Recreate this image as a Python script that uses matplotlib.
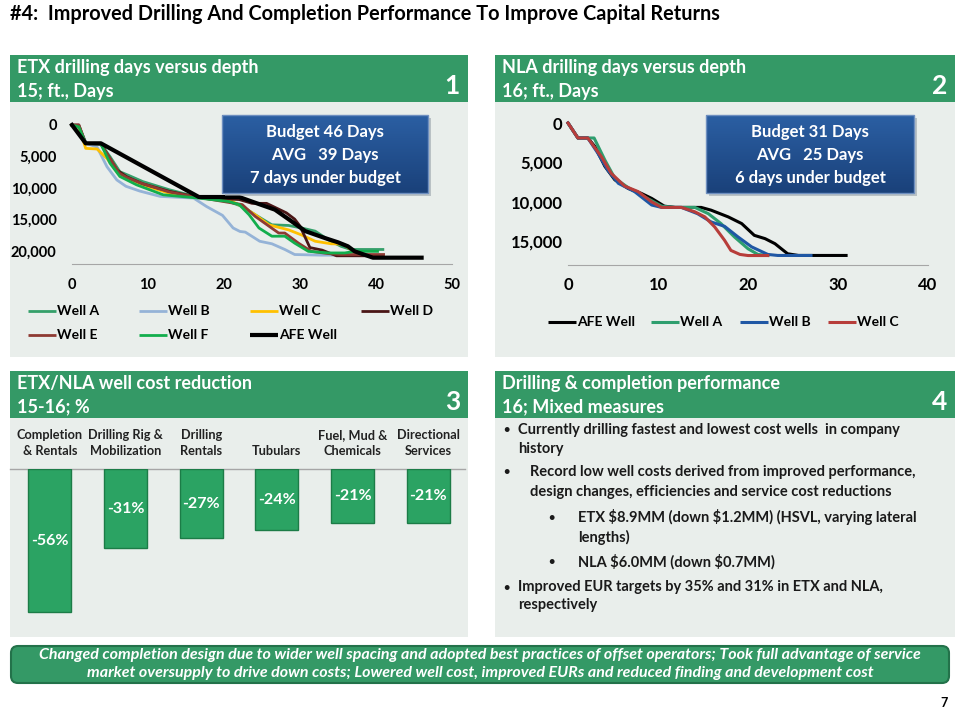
import numpy as np
import matplotlib
matplotlib.use("Agg")
import matplotlib.pyplot as plt
from matplotlib.patches import Rectangle, FancyBboxPatch

plt.rcParams['font.family'] = ['Lato', 'DejaVu Sans']
plt.rcParams['font.weight'] = 'bold'

# ETX drilling days vs depth (chart 1)
etx_afe_days = [0, 1.8, 3.8, 16.7, 22, 24.8, 26.7, 28.9, 30.7, 33.3, 35, 36.3, 37.2, 39.6, 46]
etx_afe_depth = [0, 2900, 2900, 11400, 11400, 12600, 13400, 15250, 16800, 17900, 18570, 19200, 20000, 21000, 21000]
etx_a_days = [0, 0.8, 1.8, 3.8, 5, 6.3, 7.5, 9.3, 12.8, 16.7, 20.6, 22.4, 24.1, 26.3, 28.5, 30.2, 32, 33.7, 35.4, 36.7, 40.9]
etx_a_depth = [0, 300, 2900, 3000, 5000, 7400, 8000, 8950, 10250, 11470, 12100, 12900, 14200, 15800, 15900, 16300, 16800, 18150, 19200, 19700, 19700]
etx_b_days = [0, 0.9, 1.9, 3.3, 4.6, 5.9, 7.1, 8.9, 11.6, 16, 17.7, 19.8, 21.2, 22.1, 22.8, 24.7, 26.3, 28, 29.3, 32.8, 35]
etx_b_depth = [0, 300, 2900, 3500, 6600, 8700, 9700, 10450, 11300, 11570, 12900, 14300, 16300, 16850, 16950, 18400, 18800, 19700, 20500, 20600, 20600]
etx_c_days = [0, 0.9, 1.8, 3.3, 4.6, 5.9, 7.2, 9.3, 12.8, 16.7, 20.6, 22.4, 24.1, 25.9, 28.5, 30.2, 32, 34.1, 35.7, 36.7, 38]
etx_c_depth = [0, 300, 3700, 3800, 5300, 7360, 8400, 9470, 10800, 11470, 11800, 12900, 14200, 15800, 16600, 17400, 18400, 18800, 18850, 19700, 20500]
etx_d_days = [0, 0.9, 1.8, 3.8, 5.9, 7.2, 9.3, 12.8, 16.7, 22, 23.7, 25.6, 28.2, 29.3, 30, 31.3, 32.9, 34.8, 40.9]
etx_d_depth = [0, 0, 2900, 3000, 7100, 8200, 9300, 10500, 11470, 11800, 12400, 12400, 13900, 14900, 16000, 19400, 19800, 20700, 20700]
etx_e_days = [0, 0.9, 1.8, 3.8, 6.2, 7.2, 9.3, 12.8, 16.7, 22.4, 24.1, 25.9, 27.2, 28, 29.8, 31.5, 33.7, 35.4, 41]
etx_e_depth = [0, 0, 2900, 3000, 7600, 8300, 9300, 10600, 11470, 12600, 14460, 16000, 17100, 17100, 18700, 20000, 20350, 20500, 20500]
etx_f_days = [0, 0.9, 1.8, 3.8, 5, 6.3, 8.5, 12, 16.7, 20.6, 22, 23.3, 24.6, 26.3, 28, 29.3, 31.1, 33.7, 35.9, 37.2, 40.2]
etx_f_depth = [0, 300, 2900, 3000, 6050, 8150, 9470, 11050, 11570, 12100, 12600, 14200, 16300, 17600, 17600, 18700, 20000, 20250, 20250, 20000, 20000]

# NLA drilling days vs depth (chart 2)
nla_afe_days = [0, 1.1, 2.2, 3, 4.1, 5.2, 6.7, 8.1, 9.3, 10.7, 11.9, 14.8, 15.9, 17.8, 19.3, 20.7, 21.9, 23, 24.4, 25.6, 30.9]
nla_afe_depth = [0, 1900, 1900, 3000, 5500, 7200, 8300, 8900, 9560, 10540, 10700, 10700, 11050, 11900, 12750, 14240, 14660, 15300, 16575, 16790, 16790]
nla_a_days = [0, 1.1, 2.9, 4.1, 5.2, 6.7, 8.5, 10.4, 11.9, 14.1, 15.6, 17, 18.5, 20, 21.1, 22.2]
nla_a_depth = [0, 1900, 1900, 4700, 7000, 8200, 9350, 10540, 10700, 10700, 11500, 12750, 14450, 15940, 16660, 16790]
nla_b_days = [0, 1.1, 2.2, 3.3, 4.4, 5.6, 7.4, 9.3, 10.4, 12.6, 14.4, 15.9, 17.4, 18.9, 20.4, 22.2, 23.3, 27]
nla_b_depth = [0, 1900, 1900, 3800, 5950, 7650, 8700, 10400, 10700, 10700, 11500, 12540, 13100, 14450, 15700, 16660, 16790, 16790]
nla_c_days = [0, 1.1, 2.2, 3.7, 4.8, 6.3, 7.8, 9.3, 10.4, 12.6, 14.1, 15.2, 16.3, 17.4, 18.1, 19.1, 20, 22.2]
nla_c_depth = [0, 1900, 1900, 4250, 6375, 8000, 8700, 10000, 10700, 10700, 11260, 11900, 13175, 14875, 16150, 16660, 16800, 16800]

# well cost reduction (chart 3)
cost_items = ["Completion\n& Rentals", "Drilling Rig &\nMobilization", "Drilling\nRentals",
              "Tubulars", "Fuel, Mud &\nChemicals", "Directional\nServices"]
cost_change = [-56, -31, -27, -24, -21, -21]

GREEN = "#349966"
PANEL = "#E9EEEB"

fig = plt.figure(figsize=(9.6, 7.2), dpi=100)
bg = fig.add_axes([0, 0, 1, 1])
bg.axis('off')

def fax(x0, y0, x1, y1):
    # pixel box -> figure fraction rect
    return [x0 / 960, 1 - y1 / 720, (x1 - x0) / 960, (y1 - y0) / 720]

# title
bg.text(10, 14, "#4:  Improved Drilling And Completion Performance To Improve Capital Returns",
        fontsize=14.3, fontweight='bold', va='center', ha='left')

# panels
panels = [(10, 468, 55, 102, 357, "ETX drilling days versus depth", "15; ft., Days", "1"),
          (495, 955, 55, 102, 357, "NLA drilling days versus depth", "16; ft., Days", "2"),
          (10, 468, 371, 418, 637, "ETX/NLA well cost reduction", "15-16; %", "3"),
          (495, 955, 371, 418, 637, "Drilling & completion performance", "16; Mixed measures", "4")]
for x0, x1, y0, ym, y1, t1, t2, num in panels:
    bg.add_patch(Rectangle((x0, y0), x1 - x0, ym - y0, color=GREEN, lw=0))
    bg.add_patch(Rectangle((x0, ym), x1 - x0, y1 - ym, color=PANEL, lw=0))
    bg.text(x0 + 7, y0 + 13, t1, color='white', fontsize=13, va='center')
    bg.text(x0 + 7, y0 + 36, t2, color='white', fontsize=13, va='center')
    bg.text(x1 - 8, y0 + 31, num, color='white', fontsize=19, va='center', ha='right')

# footer
bg.add_patch(FancyBboxPatch((11, 646), 938, 37, boxstyle="round,pad=0,rounding_size=7",
                            fc=GREEN, ec="#23724A", lw=1.5))
bg.text(480, 655, "Changed completion design due to wider well spacing and adopted best practices of offset operators; Took full advantage of service",
        color='white', fontsize=11.5, style='italic', ha='center', va='center')
bg.text(480, 673, "market oversupply to drive down costs; Lowered well cost, improved EURs and reduced finding and development cost",
        color='white', fontsize=11.5, style='italic', ha='center', va='center')
bg.text(948, 703, "7", fontsize=9, ha='right', va='center')

# bullets panel 4
bullets = [(503, 518, 430, "Currently drilling fastest and lowest cost wells  in company"),
           (None, 518, 449, "history"),
           (503, 530, 472, "Record low well costs derived from improved performance,"),
           (None, 530, 492, "design changes, efficiencies and service cost reductions"),
           (548, 578, 517, "ETX \\$8.9MM (down \\$1.2MM) (HSVL, varying lateral"),
           (None, 578, 537, "lengths)"),
           (548, 578, 562, "NLA \\$6.0MM (down \\$0.7MM)"),
           (503, 518, 587, "Improved EUR targets by 35% and 31% in ETX and NLA,"),
           (None, 518, 605, "respectively")]
for bx, tx, ty, txt in bullets:
    if bx is not None:
        bg.text(bx, ty, "\u2022", fontsize=8, va='center', color='#1a1a1a')
    bg.text(tx, ty, txt, fontsize=10.5, va='center', color='#1a1a1a')

# manual legends
def legend_row(items, xs, y, fs):
    for x, (lab, col, lw) in zip(xs, items):
        bg.plot([x, x + 28], [y, y], color=col, lw=lw, solid_capstyle='butt')
        bg.text(x + 29, y, lab, fontsize=fs, va='center')

etx_series = [("Well A", "#35A06A", etx_a_days, etx_a_depth, 2.0),
              ("Well B", "#95B3D7", etx_b_days, etx_b_depth, 2.0),
              ("Well C", "#FFC000", etx_c_days, etx_c_depth, 2.0),
              ("Well D", "#4A1616", etx_d_days, etx_d_depth, 2.0),
              ("Well E", "#8E3A32", etx_e_days, etx_e_depth, 2.0),
              ("Well F", "#12AE4C", etx_f_days, etx_f_depth, 2.0),
              ("AFE Well", "black", etx_afe_days, etx_afe_depth, 3.0)]
legend_row([(s[0], s[1], s[4]) for s in etx_series[:4]], [28, 139, 250, 361], 311, 10)
legend_row([(s[0], s[1], s[4]) for s in etx_series[4:]], [28, 139, 250], 335, 10)

nla_series = [("AFE Well", "black", nla_afe_days, nla_afe_depth),
              ("Well A", "#2E9E6E", nla_a_days, nla_a_depth),
              ("Well B", "#1F57A4", nla_b_days, nla_b_depth),
              ("Well C", "#B73D3A", nla_c_days, nla_c_depth)]
legend_row([(s[0], s[1], 2.2) for s in nla_series], [548, 651, 740, 828], 322, 10)

bg.set_xlim(0, 960)
bg.set_ylim(720, 0)

# chart 1
ax1 = fig.add_axes(fax(72, 125, 452, 264))
for lab, col, d, z, lw in etx_series:
    ax1.plot(d, z, color=col, lw=lw, clip_on=False)
ax1.set_xlim(0, 50)
ax1.set_ylim(22000, 0)
ax1.set_xticks(range(0, 51, 10))
ax1.set_yticks(range(0, 20001, 5000))
ax1.set_yticklabels([f"{v:,}" for v in range(0, 20001, 5000)])

# chart 2
ax2 = fig.add_axes(fax(568, 123, 928, 265))
for lab, col, d, z in nla_series:
    ax2.plot(d, z, color=col, lw=2.2, clip_on=False)
ax2.set_xlim(0, 40)
ax2.set_ylim(18000, 0)
ax2.set_xticks(range(0, 41, 10))
ax2.set_yticks(range(0, 15001, 5000))
ax2.set_yticklabels([f"{v:,}" for v in range(0, 15001, 5000)])

for ax, fs, xpad, ypad in [(ax1, 10.5, 10, 11), (ax2, 12, 9, 4)]:
    ax.set_facecolor('none')
    for s in ['top', 'left', 'right']:
        ax.spines[s].set_visible(False)
    ax.spines['bottom'].set_color('#A6A6A6')
    ax.tick_params(length=0, labelsize=fs)
    ax.tick_params(axis='x', pad=xpad)
    ax.tick_params(axis='y', pad=ypad)

# chart 3 bars
ax3 = fig.add_axes(fax(12, 469, 466, 630))
xs = np.arange(len(cost_items))
bars = ax3.bar(xs, cost_change, width=0.57, color="#2BA363", edgecolor="#1C7C47", lw=1)
for b, v in zip(bars, cost_change):
    ax3.text(b.get_x() + b.get_width() / 2, v / 2, f"{v}%", color='white',
             fontsize=11.5, ha='center', va='center')
ax3.set_xlim(-0.5, len(cost_items) - 0.5)
ax3.set_ylim(-63, 0)
ax3.axis('off')
ax3.set_facecolor('none')
for i, lab in enumerate(cost_items):
    lines = lab.split("\n")
    if len(lines) == 1:
        lines = ["", lines[0]]
    x = 50 + i * 75.6
    bg.text(x, 435, lines[0], fontsize=9.2, ha='center', va='center', color='#222222')
    bg.text(x, 451, lines[1], fontsize=9.2, ha='center', va='center', color='#222222')
bg.plot([10, 465], [469, 469], color='#A6A6A6', lw=1)

# budget boxes on top
top = fig.add_axes([0, 0, 1, 1])
top.set_facecolor('none')
top.axis('off')
grad = np.linspace(0, 1, 64).reshape(-1, 1)
cmap = matplotlib.colors.LinearSegmentedColormap.from_list("b", ["#2B5FA3", "#1A417A"])
boxes = [(222, 428, 115, 193, ["Budget 46 Days", "AVG   39 Days", "7 days under budget"]),
         (706, 914, 115, 193, ["Budget 31 Days", "AVG   25 Days", "6 days under budget"])]
for x0, x1, y0, y1, lines in boxes:
    top.add_patch(Rectangle((x0 + 3, y0 + 3), x1 - x0, y1 - y0, color='#9AA3AA', lw=0, alpha=0.6))
    top.imshow(grad, extent=(x0, x1, y1, y0), aspect='auto', cmap=cmap, zorder=2)
    top.add_patch(Rectangle((x0, y0), x1 - x0, y1 - y0, fc='none', ec='#6E8FC0', lw=1, zorder=3))
    for k, t in enumerate(lines):
        top.text((x0 + x1) / 2, y0 + 17 + k * 23, t, color='white', fontsize=12,
                 ha='center', va='center', zorder=4)
top.set_xlim(0, 960)
top.set_ylim(720, 0)

fig.savefig("out.png", dpi=100)
